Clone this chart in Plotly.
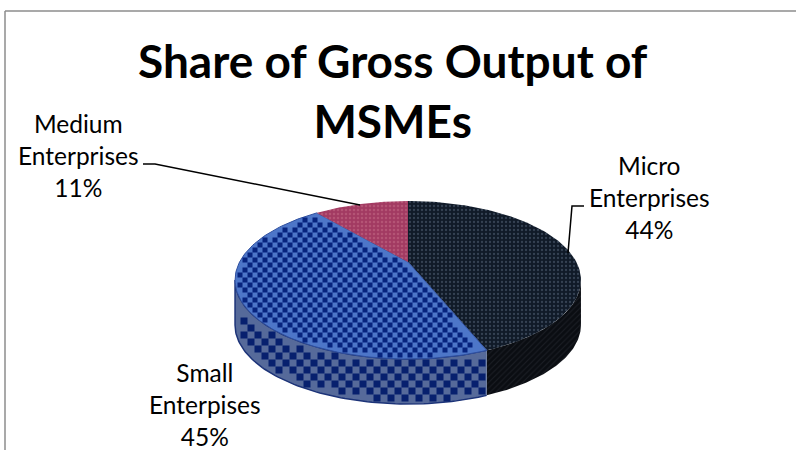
import numpy as np
import plotly.graph_objects as go

categories = ["Micro Enterprises", "Small Enterpises", "Medium Enterprises"]
shares = [44, 45, 11]
label_text = ["Micro<br>Enterprises<br>44%", "Small<br>Enterpises<br>45%", "Medium<br>Enterprises<br>11%"]
title_text = "Share of Gross Output of<br>MSMEs"

# perspective view of the disc
CX, APEX_Y, SCALE_X, SCALE_Y, TILT, DEPTH = 408, 262, 168.4, 74.9, 0.228, 45
SILHOUETTE = np.degrees(np.arccos(-TILT))
FONT = "Lato"

top_style = [
    dict(shape=".", bgcolor="#101a28", fgcolor="#5a6a7e", size=4, solidity=0.25),
    dict(bgcolor="#4d76c8"),
    dict(shape=".", bgcolor="#a23a62", fgcolor="#c66e88", size=4, solidity=0.3),
]
side_style = [
    dict(shape="/", bgcolor="#0a0d12", fgcolor="#2c3138", size=4, solidity=0.25),
    dict(bgcolor="#566a9a"),
    None,
]
CHECK_TOP, CHECK_SIDE = "#06237e", "#07206e"
RIM_TOP, RIM_SIDE = "#2f4f9f", "#1c3378"


def pt(deg, dy=0.0):
    t = np.radians(deg)
    w = 1 + TILT * np.cos(t)
    return CX + SCALE_X * np.sin(t) / w, APEX_Y - SCALE_Y * np.cos(t) / w + dy


fig = go.Figure()
edges = np.cumsum([0] + shares) * 3.6


def inside_polygon(px, py, poly_x, poly_y):
    """Even-odd test of texture points against a wedge outline."""
    hit = np.zeros(px.shape, bool)
    n = len(poly_x)
    for k in range(n):
        x0, y0, x1, y1 = poly_x[k], poly_y[k], poly_x[(k + 1) % n], poly_y[(k + 1) % n]
        if y0 == y1:
            continue
        cross = (y0 > py) != (y1 > py)
        hit ^= cross & (px < x0 + (py - y0) * (x1 - x0) / (y1 - y0))
    return hit


def checker(poly_x, poly_y, cell, color, name):
    """Checker texture, kept wholly inside a wedge built from the share values."""
    xs, ys = np.meshgrid(np.arange(230, 590, cell), np.arange(195, 410, cell))
    ix, iy = np.meshgrid(np.arange(xs.shape[1]), np.arange(xs.shape[0]))
    keep = (ix + iy) % 2 == 0
    h = cell / 2
    for dx, dy in ((-h, -h), (h, -h), (-h, h), (h, h)):
        keep &= inside_polygon(xs + dx, ys + dy, poly_x, poly_y)
    fig.add_trace(go.Scatter(x=xs[keep], y=ys[keep], mode="markers", name=name,
                             marker=dict(symbol="square", size=cell, color=color, line=dict(width=0)),
                             hoverinfo="skip", showlegend=False))


# side walls first (only the front of the disc is visible)
for i, st in enumerate(side_style):
    a0, a1 = max(edges[i], SILHOUETTE), min(edges[i + 1], 360 - SILHOUETTE)
    if st is None or a0 >= a1:
        continue
    ang = np.linspace(a0, a1, 80)
    xt, yt = pt(ang)
    xb, yb = pt(ang[::-1], DEPTH)
    px, py = np.r_[xt, xb], np.r_[yt, yb]
    textured = "shape" not in st
    kw = {} if textured else dict(fillpattern=st)
    line = dict(width=1.5, color=RIM_SIDE) if textured else dict(width=0)
    fig.add_trace(go.Scatter(x=px, y=py, mode="lines", fill="toself", line=line,
                             fillcolor=st["bgcolor"], hoverinfo="skip", showlegend=False, **kw))
    if textured:
        checker(px, py, 7, CHECK_SIDE, categories[i] + " side")

# top face
for i, st in enumerate(top_style):
    ang = np.linspace(edges[i], edges[i + 1], 120)
    xt, yt = pt(ang)
    px, py = np.r_[CX, xt, CX], np.r_[APEX_Y, yt, APEX_Y]
    textured = "shape" not in st
    kw = {} if textured else dict(fillpattern=st)
    line = dict(width=1, color=RIM_TOP) if textured else dict(width=0)
    fig.add_trace(go.Scatter(x=px, y=py, mode="lines", fill="toself", line=line,
                             fillcolor=st["bgcolor"], name=categories[i], showlegend=False, **kw))
    if textured:
        checker(px, py, 5, CHECK_TOP, categories[i] + " texture")


def note(x, y, text, size, bold=False):
    fig.add_annotation(x=x, y=y, xref="x", yref="y", text=f"<b>{text}</b>" if bold else text,
                       showarrow=False, align="center",
                       font=dict(family=FONT, size=size, color="#000000"))


note(393, 90, title_text, 46, True)
note(649, 197, label_text[0], 24.5)
note(205, 404, label_text[1], 24.5)
note(78, 155, label_text[2], 24.5)

border = dict(color="#8c8c8c", width=1.5)
fig.add_shape(type="line", x0=5, x1=5, y0=11, y1=450, line=border)
fig.add_shape(type="line", x0=5, x1=796, y0=11, y1=11, line=border)
lead = dict(color="#000000", width=1.5)
fig.add_shape(type="path", path="M 143 164 L 155 164 L 360 205", line=lead)
fig.add_shape(type="path", path="M 584 206 L 572 206 L 568 253", line=lead)

fig.update_layout(
    width=796, height=450, margin=dict(l=0, r=0, t=0, b=0),
    paper_bgcolor="white", plot_bgcolor="white", showlegend=False,
    xaxis=dict(range=[0, 796], visible=False, fixedrange=True),
    yaxis=dict(range=[450, 0], visible=False, fixedrange=True),
)
fig.write_html("out.html", config=dict(displayModeBar=False),
               post_script="document.body.style.margin='0';document.body.style.overflow='hidden';")
